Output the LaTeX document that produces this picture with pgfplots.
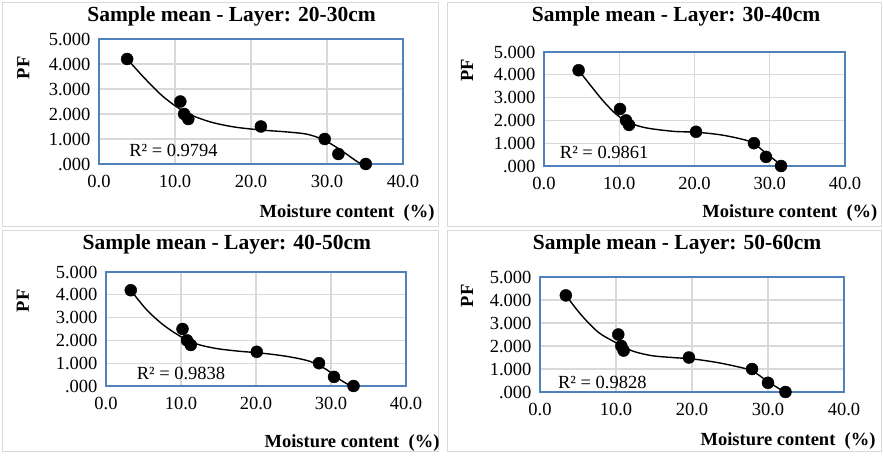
\documentclass[border=0pt]{standalone}
\usepackage{pgfplots}
\pgfplotsset{compat=1.18}
\usepackage{fontspec}
\setmainfont{Liberation Serif}
\definecolor{plotblue}{HTML}{4F81BD}
\definecolor{gridgray}{HTML}{D9D9D9}

\pgfplotsset{
  panel/.style={
    scale only axis, anchor=south west, clip=false,
    xmin=0, xmax=40, ymin=0, ymax=5,
    xtick={0,10,20,30,40},
    xticklabels={0.0,10.0,20.0,30.0,40.0},
    ytick={0,1,2,3,4,5},
    yticklabels={.000,1.000,2.000,3.000,4.000,5.000},
    major tick length=0pt,
    grid=major,
    major grid style={draw=gridgray, line width=1.2pt},
    axis line style={draw=plotblue, line width=1.2pt},
    tick label style={font=\fontsize{18.5}{20}\selectfont},
    xticklabel style={yshift=-8pt},
    yticklabel style={xshift=-5pt},
    label style={font=\bfseries\fontsize{18.5}{20}\selectfont, anchor=center},
    title style={font=\bfseries\fontsize{21.5}{24}\selectfont, anchor=center},
    xlabel={Moisture content\ \ (\%)},
    ylabel={PF},
  },
  pts/.style={only marks, mark=*, mark size=6pt, black},
  trend/.style={no marks, smooth, black, line width=1.4pt},
}
\newcommand{\rtext}{\fontsize{18.5}{20}\selectfont}

\begin{document}
\begin{tikzpicture}
\path[fill=white] (0pt,0pt) rectangle (883pt,457pt);
\draw[gridgray, line width=1pt] (2pt,230pt) rectangle (438pt,454pt);
\draw[gridgray, line width=1pt] (447pt,230pt) rectangle (881pt,454pt);
\draw[gridgray, line width=1pt] (2pt,5pt) rectangle (438pt,226pt);
\draw[gridgray, line width=1pt] (447pt,5pt) rectangle (881pt,226pt);

% Layer 20-30cm
\begin{axis}[panel, at={(99pt,293pt)}, width=304pt, height=125pt,
  title={Sample mean - Layer: 20-30cm},
  title style={at={(axis description cs:0.436,1.136)}},
  xlabel style={at={(axis description cs:0.816,-0.392)}},
  ylabel style={at={(axis description cs:-0.249,0.768)}}]
\addplot[trend] coordinates {(3.7,4.2) (6.0,3.43) (8.2,2.76) (10.2,2.29) (12.1,1.96)
  (14.8,1.67) (17.8,1.48) (21.3,1.36) (24.8,1.28) (27.4,1.19) (29.6,0.96) (31.8,0.56)
  (34.0,0.09) (35.1,-0.06)};
\addplot[pts] coordinates {(3.7,4.2) (10.7,2.5) (11.2,2.0) (11.75,1.8) (21.3,1.5)
  (29.7,1.0) (31.5,0.4) (35.1,0.0)};
\node[font=\rtext] at (axis cs:9.8,0.56) {R² = 0.9794};
\end{axis}

% Layer 30-40cm
\begin{axis}[panel, at={(544pt,291pt)}, width=301pt, height=114pt,
  title={Sample mean - Layer: 30-40cm},
  title style={at={(axis description cs:0.439,1.263)}},
  xlabel style={at={(axis description cs:0.817,-0.412)}},
  ylabel style={at={(axis description cs:-0.256,0.842)}}]
\addplot[trend] coordinates {(4.6,4.2) (6.1,3.57) (7.9,2.84) (9.66,2.25) (11.4,1.89)
  (13.6,1.67) (17.2,1.52) (20.3,1.48) (23.4,1.37) (26.0,1.2) (27.8,1.01) (29.6,0.53)
  (31.5,0.05)};
\addplot[pts] coordinates {(4.6,4.2) (10.1,2.5) (10.9,2.0) (11.3,1.8) (20.2,1.5)
  (27.9,1.0) (29.5,0.4) (31.5,0.0)};
\node[font=\rtext] at (axis cs:8.0,0.61) {R² = 0.9861};
\end{axis}

% Layer 40-50cm
\begin{axis}[panel, at={(106pt,71pt)}, width=300pt, height=114pt,
  title={Sample mean - Layer: 40-50cm},
  title style={at={(axis description cs:0.403,1.193)}},
  xlabel style={at={(axis description cs:0.82,-0.5)}},
  ylabel style={at={(axis description cs:-0.277,0.746)}}]
\addplot[trend] coordinates {(3.3,4.2) (5.4,3.35) (7.6,2.69) (9.9,2.18) (12.1,1.84)
  (14.8,1.64) (17.9,1.52) (20.5,1.45) (24.1,1.3) (27.2,1.08) (29.4,0.72) (31.2,0.28)
  (33.0,-0.07)};
\addplot[pts] coordinates {(3.3,4.2) (10.2,2.5) (10.8,2.0) (11.3,1.8) (20.1,1.5)
  (28.4,1.0) (30.4,0.4) (33.0,0.0)};
\node[font=\rtext] at (axis cs:10.0,0.53) {R² = 0.9838};
\end{axis}

% Layer 50-60cm
\begin{axis}[panel, at={(540pt,65pt)}, width=304pt, height=115pt,
  title={Sample mean - Layer: 50-60cm},
  title style={at={(axis description cs:0.451,1.235)}},
  xlabel style={at={(axis description cs:0.816,-0.426)}},
  ylabel style={at={(axis description cs:-0.240,0.835)}}]
\addplot[trend] coordinates {(3.4,4.2) (5.5,3.32) (7.7,2.59) (9.9,2.16) (12.1,1.79)
  (14.7,1.58) (17.8,1.49) (20.0,1.44) (23.0,1.3) (25.7,1.12) (27.9,0.92) (30.0,0.45)
  (32.3,-0.03)};
\addplot[pts] coordinates {(3.4,4.2) (10.3,2.5) (10.7,2.0) (11.0,1.8) (19.6,1.5)
  (27.9,1.0) (30.0,0.4) (32.3,0.0)};
\node[font=\rtext] at (axis cs:8.2,0.43) {R² = 0.9828};
\end{axis}
\end{tikzpicture}
\end{document}
